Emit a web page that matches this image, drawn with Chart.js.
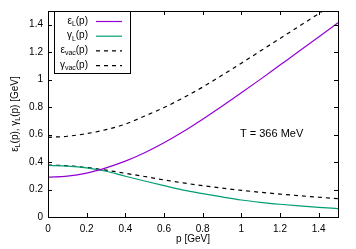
<!DOCTYPE html>
<html>
<head>
<meta charset="utf-8">
<script src="https://cdn.jsdelivr.net/npm/chart.js@4"></script>
<style>
  html, body { margin: 0; padding: 0; background: #fff; }
  #wrap { width: 356px; height: 249px; }
</style>
</head>
<body>
<div id="wrap"><canvas id="myChart" width="356" height="249"></canvas></div>
<script>
// momentum grid [GeV]
const pValues = [0, 0.1, 0.2, 0.3, 0.4, 0.5, 0.6, 0.7, 0.8, 0.9, 1.0, 1.1, 1.2, 1.3, 1.4, 1.5];

// curves [GeV]
const epsL     = [0.29, 0.298, 0.32, 0.358, 0.407, 0.468, 0.54, 0.622, 0.712, 0.806, 0.904, 1.004, 1.106, 1.208, 1.311, 1.415];
const gammaL   = [0.375, 0.371, 0.358, 0.333, 0.297, 0.262, 0.228, 0.196, 0.17, 0.146, 0.124, 0.107, 0.093, 0.081, 0.07, 0.061];
const epsVac   = [0.58, 0.588, 0.607, 0.636, 0.676, 0.735, 0.797, 0.868, 0.946, 1.032, 1.12, 1.21, 1.3, 1.39, 1.48, 1.57];
const gammaVac = [0.378, 0.373, 0.36, 0.341, 0.318, 0.295, 0.27, 0.248, 0.228, 0.21, 0.194, 0.18, 0.167, 0.155, 0.144, 0.134];

const xTicks = [0, 0.2, 0.4, 0.6, 0.8, 1.0, 1.2, 1.4];
const yTicks = [0, 0.2, 0.4, 0.6, 0.8, 1.0, 1.2, 1.4];

// legend entries: [main, subscript]
const legendLabels = [["\u03b5", "L"], ["\u03b3", "L"], ["\u03b5", "vac"], ["\u03b3", "vac"]];
const annotation = "T = 366 MeV";

const FONT = "Liberation Sans, Arial, sans-serif";

function toPoints(ys) {
  return pValues.map((p, i) => ({ x: p, y: ys[i] }));
}

// draw "sym_sub(p)" with a real subscript, returns width
function drawSub(ctx, x, y, sym, sub, tail, size, measureOnly) {
  const subSize = Math.round(size * 0.72);
  ctx.font = size + "px " + FONT;
  const w1 = ctx.measureText(sym).width;
  const w3 = ctx.measureText(tail).width;
  ctx.font = subSize + "px " + FONT;
  const w2 = ctx.measureText(sub).width;
  if (!measureOnly) {
    ctx.textBaseline = "middle";
    ctx.textAlign = "left";
    ctx.font = size + "px " + FONT;
    ctx.fillText(sym, x, y);
    ctx.font = subSize + "px " + FONT;
    ctx.fillText(sub, x + w1, y + size * 0.3);
    ctx.font = size + "px " + FONT;
    ctx.fillText(tail, x + w1 + w2, y);
  }
  return w1 + w2 + w3;
}

// frame, inward ticks, titles, legend and label (gnuplot look)
const decorPlugin = {
  id: "decor",
  afterDraw(chart) {
    const ctx = chart.ctx;
    const a = chart.chartArea;
    const xs = chart.scales.x, ys = chart.scales.y;
    ctx.save();

    // ticks on all four sides
    ctx.strokeStyle = "#000";
    ctx.lineWidth = 1;
    ctx.beginPath();
    xTicks.forEach(v => {
      const px = Math.round(xs.getPixelForValue(v)) + 0.5;
      ctx.moveTo(px, a.bottom); ctx.lineTo(px, a.bottom - 4);
      ctx.moveTo(px, a.top); ctx.lineTo(px, a.top + 4);
    });
    yTicks.forEach(v => {
      const py = Math.round(ys.getPixelForValue(v)) + 0.5;
      ctx.moveTo(a.left, py); ctx.lineTo(a.left + 4, py);
      ctx.moveTo(a.right, py); ctx.lineTo(a.right - 4, py);
    });
    ctx.stroke();

    // frame
    ctx.strokeRect(Math.round(a.left) + 0.5, Math.round(a.top) + 0.5,
                   Math.round(a.right - a.left), Math.round(a.bottom - a.top));

    ctx.fillStyle = "#000";

    // x title
    ctx.font = "10px " + FONT;
    ctx.textAlign = "center";
    ctx.textBaseline = "middle";
    ctx.fillText("p [GeV]", (a.left + a.right) / 2, 239);

    // y title (rotated, with subscripts)
    ctx.save();
    ctx.translate(15, (a.top + a.bottom) / 2);
    ctx.rotate(-Math.PI / 2);
    const parts = [["\u03b5", "L", "(p), "], ["\u03b3", "L", "(p) [GeV]"]];
    let total = 0;
    parts.forEach(pt => { total += drawSub(ctx, 0, 0, pt[0], pt[1], pt[2], 10, true); });
    let cx = -total / 2;
    parts.forEach(pt => { cx += drawSub(ctx, cx, 0, pt[0], pt[1], pt[2], 10, false); });
    ctx.restore();

    // legend box
    const bx = a.left + 6, by = a.top, bw = 76, bh = 62;
    ctx.fillStyle = "#fff";
    ctx.fillRect(bx, by, bw, bh);
    ctx.strokeStyle = "#000";
    ctx.strokeRect(bx + 0.5, by + 0.5, bw, bh);
    chart.data.datasets.forEach((ds, i) => {
      const ry = by + 10 + i * 14.7;
      const lab = legendLabels[i];
      ctx.fillStyle = "#000";
      const w = drawSub(ctx, 0, 0, lab[0], lab[1], "(p)", 10, true);
      drawSub(ctx, bx + 34 - w, ry, lab[0], lab[1], "(p)", 10, false);
      ctx.strokeStyle = ds.borderColor;
      ctx.lineWidth = ds.borderWidth;
      ctx.setLineDash(ds.borderDash || []);
      ctx.beginPath();
      ctx.moveTo(bx + 42, ry + 0.5);
      ctx.lineTo(bx + 68, ry + 0.5);
      ctx.stroke();
      ctx.setLineDash([]);
    });

    // temperature label
    ctx.fillStyle = "#000";
    ctx.font = "11px " + FONT;
    ctx.textAlign = "left";
    ctx.textBaseline = "middle";
    ctx.fillText(annotation, 240, 134);

    ctx.restore();
  }
};

const keepTicks = list => scale => {
  scale.ticks = list.map(v => ({ value: v }));
};

new Chart(document.getElementById("myChart"), {
  type: "line",
  data: {
    datasets: [
      { label: "epsL", data: toPoints(epsL), borderColor: "#9400d3", borderWidth: 1.2 },
      { label: "gammaL", data: toPoints(gammaL), borderColor: "#009e73", borderWidth: 1.2 },
      { label: "epsVac", data: toPoints(epsVac), borderColor: "#000", borderWidth: 1.2, borderDash: [4, 4] },
      { label: "gammaVac", data: toPoints(gammaVac), borderColor: "#000", borderWidth: 1.2, borderDash: [4, 4] }
    ]
  },
  options: {
    responsive: false,
    animation: false,
    events: [],
    layout: { padding: { left: 0, top: 10, right: 18, bottom: 0 } },
    elements: {
      point: { radius: 0 },
      line: { cubicInterpolationMode: "monotone", fill: false }
    },
    plugins: {
      legend: { display: false },
      tooltip: { enabled: false }
    },
    scales: {
      x: {
        type: "linear",
        min: 0,
        max: 1.5,
        afterBuildTicks: keepTicks(xTicks),
        afterFit: s => { s.height = 32; },
        grid: { display: false, drawTicks: false },
        border: { display: false },
        ticks: {
          padding: 6,
          color: "#000",
          font: { family: FONT, size: 10 },
          maxRotation: 0,
          callback: v => String(Math.round(v * 10) / 10)
        }
      },
      y: {
        min: 0,
        max: 1.5,
        afterBuildTicks: keepTicks(yTicks),
        afterFit: s => { s.width = 48; },
        grid: { display: false, drawTicks: false },
        border: { display: false },
        ticks: {
          padding: 5,
          color: "#000",
          font: { family: FONT, size: 10 },
          callback: v => String(Math.round(v * 10) / 10)
        }
      }
    }
  },
  plugins: [decorPlugin]
});
</script>
</body>
</html>
